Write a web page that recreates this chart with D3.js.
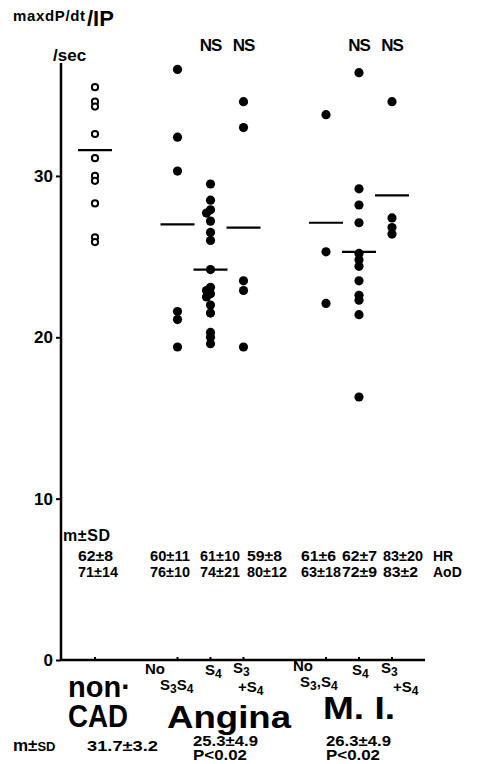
<!DOCTYPE html>
<html><head><meta charset="utf-8">
<script src="https://cdn.jsdelivr.net/npm/d3@7"></script>
<style>
body{margin:0;background:#fff}
svg{display:block}
text{font-family:"Liberation Sans",Arial,Helvetica,sans-serif;font-weight:bold;fill:#000}
</style>
</head><body>
<svg id="c" width="480" height="764"></svg>
<script>
// ---- data ----
const groups = ["non·CAD", "Angina", "M. I."];
const subgroups = ["No S3S4", "S4", "S3+S4"];
const nonCAD     = [35.5, 34.6, 34.3, 32.6, 31.1, 30.0, 29.7, 28.3, 26.2, 25.9];
const anginaNo   = [36.6, 32.4, 30.3, 21.6, 21.1, 19.4];
const anginaS4   = [29.5, 28.5, 27.9, 27.7, 27.2, 26.5, 26.0, 24.2, 23.1, 22.9, 22.7, 22.5, 22.0, 21.5, 20.3, 20.0, 19.6];
const anginaS3S4 = [34.6, 33.0, 23.5, 22.9, 19.4];
const miNo       = [33.8, 25.3, 22.1];
const miS4       = [36.4, 29.2, 28.2, 27.1, 25.2, 24.8, 24.4, 23.5, 22.6, 22.3, 21.4, 16.3];
const miS3S4     = [34.6, 27.4, 26.8, 26.4];
const means      = [31.6, 27.0, 24.2, 26.8, 27.1, 25.3, 28.8];
const yTicks     = [0, 10, 20, 30];
const hrLabels   = ["62±8", "60±11", "61±10", "59±8", "61±6", "62±7", "83±20"];
const aodLabels  = ["71±14", "76±10", "74±21", "80±12", "63±18", "72±9", "83±2"];
const groupStats = ["31.7±3.2", "25.3±4.9", "26.3±4.9"];
const pValues    = ["", "P<0.02", "P<0.02"];

// ---- layout ----
const svg = d3.select("#c");
const y = d3.scaleLinear().domain([0, 37]).range([660, 63]);
const slots = [0, 2.5, 3.5, 4.5, 7, 8, 9];
const x = d3.scaleLinear().domain([0, 9]).range([95, 392]);
const columns = [nonCAD, anginaNo, anginaS4, anginaS3S4, miNo, miS4, miS3S4];
const axisX0 = 61, axisX1 = 425;

// y axis
const yAxis = d3.axisLeft(y).tickValues(yTicks).tickSize(5).tickPadding(3).tickFormat(d3.format("d"));
const ga = svg.append("g").attr("transform", `translate(${axisX0},0)`).call(yAxis);
ga.select(".domain").remove();
ga.selectAll(".tick line").attr("stroke", "#000").attr("stroke-width", 2);
ga.selectAll(".tick text").style("font-size", "17px").style("font-family", "Liberation Sans, Arial, sans-serif").style("font-weight", "bold");
svg.append("line").attr("x1", axisX0).attr("x2", axisX0).attr("y1", y(37)).attr("y2", y(0) + 1)
  .attr("stroke", "#000").attr("stroke-width", 2.5);
// x axis
svg.append("line").attr("x1", axisX0).attr("x2", axisX1).attr("y1", y(0)).attr("y2", y(0))
  .attr("stroke", "#000").attr("stroke-width", 2.5);
svg.selectAll(".xt").data(slots).join("line")
  .attr("x1", d => x(d)).attr("x2", d => x(d)).attr("y1", y(0)).attr("y2", y(0) - 3)
  .attr("stroke", "#000").attr("stroke-width", 2);

// points
const r = 4.6;
columns.forEach((vals, ci) => {
  const cx = x(slots[ci]);
  let prevY = null, prevShift = 0;
  vals.forEach(v => {
    const py = y(v);
    let dx = 0;
    if (prevY !== null && Math.abs(py - prevY) < 4 && prevShift === 0) dx = -4;
    prevShift = dx; prevY = py;
    if (ci === 0) {
      svg.append("circle").attr("cx", cx + dx).attr("cy", py).attr("r", 3.1)
        .attr("fill", "#fff").attr("stroke", "#000").attr("stroke-width", 2);
    } else {
      svg.append("circle").attr("cx", cx + dx).attr("cy", py).attr("r", r).attr("fill", "#000");
    }
  });
});
// mean lines
svg.selectAll(".mean").data(means).join("line")
  .attr("x1", (d, i) => x(slots[i]) - 17).attr("x2", (d, i) => x(slots[i]) + 17)
  .attr("y1", d => y(d)).attr("y2", d => y(d))
  .attr("stroke", "#000").attr("stroke-width", 2.2);

// title
const t = svg.append("text").attr("x", 13).attr("y", 21);
t.append("tspan").style("font-size", "15px").attr("textLength", 72).text("maxdP/dt");
t.append("tspan").style("font-size", "22px").attr("dy", 5).attr("x", 87).text("/IP");
svg.append("text").attr("x", 53).attr("y", 61).style("font-size", "17px").text("/sec");

// NS
[2, 3, 5, 6].forEach(i => {
  svg.append("text").attr("x", x(slots[i])).attr("y", 51).attr("text-anchor", "middle")
    .style("font-size", "17px").style("letter-spacing", "-1px").text("NS");
});

// m±SD table
svg.append("text").attr("x", 63).attr("y", 541).style("font-size", "16px").attr("textLength", 47).text("m±SD");
const tableX = [78, 150, 200, 247, 301, 342, 383];
function tw(s) { return s.length >= 5 ? 40 : 35; }
hrLabels.forEach((s, i) => svg.append("text").attr("x", tableX[i]).attr("y", 561).style("font-size", "14px")
  .attr("textLength", tw(s)).attr("lengthAdjust", "spacingAndGlyphs").text(s));
aodLabels.forEach((s, i) => svg.append("text").attr("x", tableX[i]).attr("y", 577).style("font-size", "14px")
  .attr("textLength", tw(s)).attr("lengthAdjust", "spacingAndGlyphs").text(s));
svg.append("text").attr("x", 433).attr("y", 561).style("font-size", "14px").text("HR");
svg.append("text").attr("x", 433).attr("y", 577).style("font-size", "14px").text("AoD");

// sub-group labels with subscripts
function lab(xp, yp, parts, fs) {
  const tx = svg.append("text").attr("x", xp).attr("y", yp).style("font-size", (fs || 15) + "px");
  parts.forEach(p => {
    const ts = tx.append("tspan").text(p[0]);
    if (p[1]) ts.style("font-size", "12px").attr("baseline-shift", "-3");
  });
}
// Angina
lab(145, 674, [["No"]]);
lab(160, 690, [["S"], ["3", 1], ["S"], ["4", 1]]);
lab(205, 675, [["S"], ["4", 1]]);
lab(233, 673, [["S"], ["3", 1]]);
lab(238, 692, [["+S"], ["4", 1]]);
// M.I.
lab(293, 671, [["No"]]);
lab(300, 687, [["S"], ["3", 1], [","], ["S"], ["4", 1]]);
lab(352, 675, [["S"], ["4", 1]]);
lab(381, 673, [["S"], ["3", 1]]);
lab(393, 692, [["+S"], ["4", 1]]);

// group names
svg.append("text").attr("x", 68).attr("y", 697).style("font-size", "29px").text("non·");
svg.append("text").attr("x", 68).attr("y", 727).style("font-size", "31px").attr("textLength", 60).attr("lengthAdjust", "spacingAndGlyphs").text("CAD");
svg.append("text").attr("x", 167).attr("y", 728).style("font-size", "32px").attr("textLength", 124).attr("lengthAdjust", "spacingAndGlyphs").text(groups[1]);
svg.append("text").attr("x", 323).attr("y", 719).style("font-size", "32px").attr("textLength", 72).attr("lengthAdjust", "spacingAndGlyphs").text(groups[2]);

// group stats
const ms = svg.append("text").attr("x", 13).attr("y", 751);
ms.append("tspan").style("font-size", "17px").text("m±");
ms.append("tspan").style("font-size", "13px").text("SD");
const statX = [87, 193, 326];
const statY = [751, 746, 746];
groupStats.forEach((s, i) => svg.append("text").attr("x", statX[i]).attr("y", statY[i]).style("font-size", "14px")
  .attr("textLength", i === 0 ? 71 : 65).attr("lengthAdjust", "spacingAndGlyphs").text(s));
pValues.forEach((s, i) => { if (s) svg.append("text").attr("x", statX[i]).attr("y", 760).style("font-size", "14px")
  .attr("textLength", 54).attr("lengthAdjust", "spacingAndGlyphs").text(s); });
</script>
</body></html>
